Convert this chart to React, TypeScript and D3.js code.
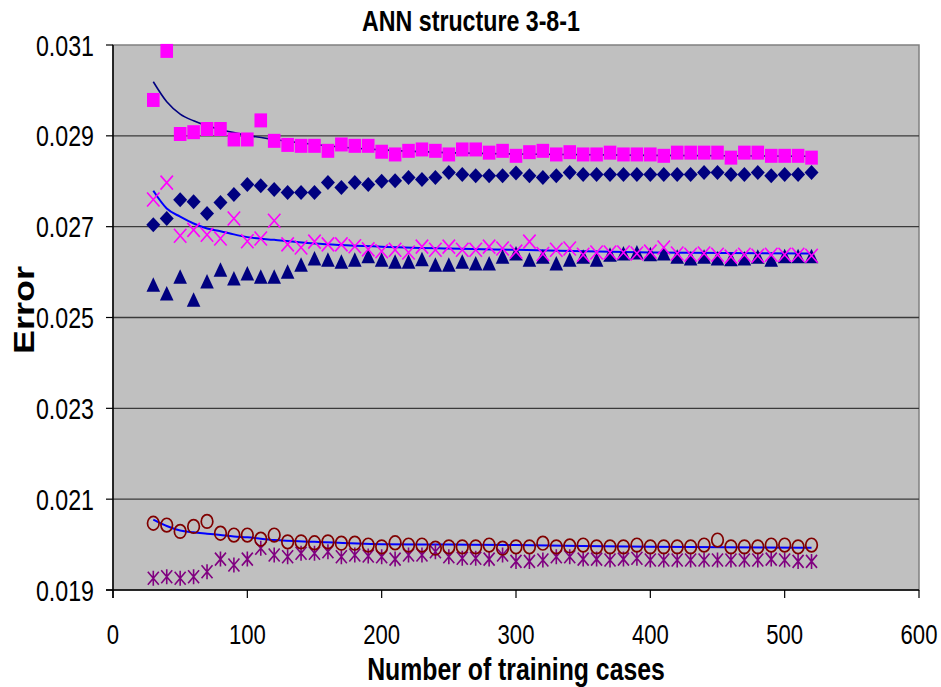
import { useRef, useEffect } from "react";
import * as d3 from "d3";

// number of training cases (x) for every series
const trainingCases = [
  30, 40, 50, 60, 70, 80, 90, 100, 110, 120, 130, 140, 150, 160, 170, 180, 190, 200, 210, 220,
  230, 240, 250, 260, 270, 280, 290, 300, 310, 320, 330, 340, 350, 360, 370, 380, 390, 400, 410, 420,
  430, 440, 450, 460, 470, 480, 490, 500, 510, 520,
];

// magenta squares
const squareErr = [
  0.02979, 0.03087, 0.02904, 0.02908, 0.02915, 0.02915, 0.02892, 0.02892, 0.02934, 0.02889,
  0.0288, 0.02878, 0.02878, 0.02867, 0.02881, 0.02878, 0.02878, 0.02865, 0.02859, 0.02867,
  0.0287, 0.02867, 0.02859, 0.0287, 0.0287, 0.02863, 0.02867, 0.02856, 0.02864, 0.02867,
  0.02859, 0.02864, 0.02859, 0.02859, 0.02863, 0.02859, 0.02859, 0.02859, 0.02856, 0.02863,
  0.02863, 0.02863, 0.02863, 0.02852, 0.02863, 0.02863, 0.02856, 0.02856, 0.02856, 0.02852,
];

// navy diamonds
const diamondErr = [
  0.02704, 0.02718, 0.02759, 0.02755, 0.02729, 0.02753, 0.02771, 0.02793, 0.0279, 0.02782,
  0.02775, 0.02775, 0.02775, 0.02797, 0.02786, 0.02797, 0.02793, 0.028, 0.02801, 0.02808,
  0.02804, 0.02808, 0.02819, 0.02815, 0.02812, 0.02812, 0.02812, 0.02818, 0.02812, 0.02808,
  0.02812, 0.02819, 0.02815, 0.02815, 0.02815, 0.02815, 0.02815, 0.02815, 0.02815, 0.02815,
  0.02815, 0.02819, 0.02819, 0.02815, 0.02815, 0.02819, 0.02812, 0.02815, 0.02815, 0.02819,
];

// magenta crosses
const crossErr = [
  0.0276, 0.02797, 0.0268, 0.02693, 0.02682, 0.02674, 0.02718, 0.02668, 0.02674, 0.02713,
  0.02661, 0.02654, 0.02667, 0.02661, 0.02661, 0.02657, 0.0265, 0.02646, 0.02649, 0.02643,
  0.02656, 0.02649, 0.02656, 0.02649, 0.02649, 0.02656, 0.02652, 0.02645, 0.02667, 0.0264,
  0.02649, 0.02652, 0.02638, 0.02643, 0.02643, 0.02643, 0.02641, 0.02645, 0.02654, 0.02641,
  0.02638, 0.02641, 0.02638, 0.02634, 0.02638, 0.02636, 0.02638, 0.02638, 0.02638, 0.02636,
];

// navy triangles
const triangleErr = [
  0.02572, 0.02553, 0.0259, 0.02539, 0.02579, 0.02605, 0.02586, 0.02597, 0.0259, 0.0259,
  0.02601, 0.02616, 0.0263, 0.02627, 0.02623, 0.02627, 0.02635, 0.02627, 0.02623, 0.02623,
  0.02628, 0.02616, 0.02616, 0.02623, 0.02619, 0.02619, 0.02634, 0.02641, 0.02627, 0.02634,
  0.02619, 0.02627, 0.02634, 0.02627, 0.02638, 0.02641, 0.02643, 0.02639, 0.02641, 0.02634,
  0.0263, 0.02634, 0.0263, 0.02628, 0.0263, 0.02634, 0.02627, 0.02635, 0.02635, 0.02635,
];

// dark red circles
const circleErr = [
  0.02047, 0.02043, 0.02029, 0.0204, 0.02051, 0.02025, 0.02021, 0.02021, 0.02012, 0.02021,
  0.02006, 0.02006, 0.02004, 0.02006, 0.02003, 0.02003, 0.01999, 0.01995, 0.02004, 0.01999,
  0.01999, 0.01992, 0.01995, 0.01995, 0.01995, 0.01999, 0.01992, 0.01995, 0.01995, 0.02003,
  0.01995, 0.01997, 0.01999, 0.01995, 0.01995, 0.01995, 0.01999, 0.01995, 0.01995, 0.01995,
  0.01995, 0.01999, 0.0201, 0.01995, 0.01995, 0.01995, 0.01999, 0.01999, 0.01995, 0.01999,
];

// purple stars
const starErr = [
  0.01926, 0.01929, 0.01926, 0.01929, 0.0194, 0.01968, 0.01955, 0.01968, 0.01992, 0.01977,
  0.01973, 0.01981, 0.01981, 0.01984, 0.01973, 0.01977, 0.01975, 0.01973, 0.01968, 0.01977,
  0.01977, 0.01984, 0.01973, 0.0197, 0.0197, 0.01968, 0.01977, 0.01963, 0.01963, 0.01966,
  0.01973, 0.01973, 0.01968, 0.01968, 0.01966, 0.01968, 0.0197, 0.01966, 0.01966, 0.01966,
  0.01966, 0.01966, 0.01966, 0.01966, 0.01966, 0.01966, 0.01968, 0.01966, 0.01963, 0.01963,
];

// trend lines
const trendX = [30, 40, 50, 60, 70, 80, 90, 100, 120, 150, 200, 250, 300, 400, 520];
const trendSquare = [
  0.03019, 0.02975, 0.02948, 0.02933, 0.02922, 0.02914, 0.02907, 0.02901, 0.02892, 0.02881,
  0.02869, 0.02863, 0.0286, 0.02857, 0.02855,
];
const trendCross = [
  0.02779, 0.0274, 0.02722, 0.02707, 0.02696, 0.0269, 0.02683, 0.02677, 0.02671, 0.02663,
  0.02656, 0.02652, 0.02649, 0.02643, 0.02641,
];
const trendCircle = [
  0.02055, 0.02041, 0.02031, 0.02027, 0.02024, 0.02021, 0.02018, 0.02016, 0.0201, 0.02006,
  0.02001, 0.02, 0.01999, 0.01995, 0.01993,
];

const xTicks = [0, 100, 200, 300, 400, 500, 600];
const yTicks = [0.019, 0.021, 0.023, 0.025, 0.027, 0.029, 0.031];

export default function App() {
  const svgRef = useRef<SVGSVGElement>(null);

  useEffect(() => {
    const width = 941;
    const height = 687;
    const MARGIN = { top: 45, right: 22, bottom: 97, left: 113 };
    const font = "'Liberation Sans', Arial, sans-serif";

    const svg = d3.select(svgRef.current).attr("width", width).attr("height", height);
    svg.selectAll("*").remove();

    const xScale = d3.scaleLinear().domain([0, 600]).range([MARGIN.left, width - MARGIN.right]);
    const yScale = d3.scaleLinear().domain([0.019, 0.031]).range([height - MARGIN.bottom, MARGIN.top]);

    const x0 = xScale(0), x1 = xScale(600), yTop = yScale(0.031), yBot = yScale(0.019);

    // squeezed text like the original
    const label = (
      px: number, py: number, txt: string, size: number, sx: number,
      anchor: string, bold = false, rot = 0
    ) => {
      svg.append("g")
        .attr("transform", `translate(${px},${py}) scale(${sx},1)` + (rot ? ` rotate(${rot})` : ""))
        .append("text")
        .attr("text-anchor", anchor)
        .attr("font-family", font)
        .attr("font-size", size)
        .attr("font-weight", bold ? "bold" : "normal")
        .attr("fill", "#000")
        .text(txt);
    };

    // plot area
    svg.append("rect")
      .attr("x", x0).attr("y", yTop)
      .attr("width", x1 - x0).attr("height", yBot - yTop)
      .attr("fill", "#c0c0c0")
      .attr("stroke", "#808080")
      .attr("stroke-width", 1.5);

    // gridlines
    svg.append("g").selectAll("line")
      .data(yTicks.slice(1, -1))
      .join("line")
      .attr("x1", x0).attr("x2", x1)
      .attr("y1", d => yScale(d)).attr("y2", d => yScale(d))
      .attr("stroke", "#3a3a3a").attr("stroke-width", 1.4);

    // axes lines + ticks
    svg.append("line").attr("x1", x0).attr("x2", x0).attr("y1", yTop).attr("y2", yBot + 8)
      .attr("stroke", "#000").attr("stroke-width", 1.5);
    svg.append("line").attr("x1", x0 - 7).attr("x2", x1).attr("y1", yBot).attr("y2", yBot)
      .attr("stroke", "#000").attr("stroke-width", 1.5);

    svg.append("g").selectAll("line")
      .data(yTicks)
      .join("line")
      .attr("x1", x0 - 7).attr("x2", x0)
      .attr("y1", d => yScale(d)).attr("y2", d => yScale(d))
      .attr("stroke", "#000").attr("stroke-width", 1.2);
    svg.append("g").selectAll("line")
      .data(xTicks)
      .join("line")
      .attr("x1", d => xScale(d)).attr("x2", d => xScale(d))
      .attr("y1", yBot).attr("y2", yBot + 8)
      .attr("stroke", "#000").attr("stroke-width", 1.2);

    yTicks.forEach(t => label(94, yScale(t) + 10.5, t.toFixed(3), 29, 0.8, "end"));
    xTicks.forEach(t => label(xScale(t), 644, String(t), 27, 0.82, "middle"));

    // titles
    label(471, 31, "ANN structure 3-8-1", 29, 0.8, "middle", true);
    label(516, 680, "Number of training cases", 31, 0.8, "middle", true);
    label(34, 310, "Error", 36, 0.8, "middle", true, -90);

    // trend lines
    const trendLine = d3.line<number>()
      .x((_, i) => xScale(trendX[i]))
      .y(d => yScale(d))
      .curve(d3.curveMonotoneX);

    svg.append("path").attr("d", trendLine(trendSquare))
      .attr("fill", "none").attr("stroke", "#000080").attr("stroke-width", 1.6);
    svg.append("path").attr("d", trendLine(trendCross))
      .attr("fill", "none").attr("stroke", "#0000ff").attr("stroke-width", 2);
    svg.append("path").attr("d", trendLine(trendCircle))
      .attr("fill", "none").attr("stroke", "#0000ff").attr("stroke-width", 2);

    // markers
    const pts = (vals: number[]) => vals.map((v, i) => [xScale(trainingCases[i]), yScale(v)]);

    const drawMarks = (vals: number[], path: string, fill: string, stroke: string, sw: number) => {
      svg.append("g").selectAll("path")
        .data(pts(vals))
        .join("path")
        .attr("transform", d => `translate(${d[0]},${d[1]})`)
        .attr("d", path)
        .attr("fill", fill)
        .attr("stroke", stroke)
        .attr("stroke-width", sw);
    };

    drawMarks(starErr, "M-5.5,-6.5L5.5,6.5M-5.5,6.5L5.5,-6.5M0,-7.5L0,7.5", "none", "#800080", 1.6);
    drawMarks(circleErr,
      "M-5.8,0A5.8,6.8 0 1,0 5.8,0A5.8,6.8 0 1,0 -5.8,0Z", "none", "#800000", 1.7);
    drawMarks(triangleErr, "M0,-7.5L6.8,7L-6.8,7Z", "#000080", "none", 0);
    drawMarks(diamondErr, "M0,-7.5L7,0L0,7.5L-7,0Z", "#000080", "none", 0);
    drawMarks(crossErr, "M-6.2,-7L6.2,7M-6.2,7L6.2,-7", "none", "#ff00ff", 1.6);
    drawMarks(squareErr, "M-6.3,-7H6.3V7H-6.3Z", "#ff00ff", "none", 0);
  }, []);

  return (
    <div style={{ position: "absolute", left: 0, top: 0, background: "#fff" }}>
      <svg ref={svgRef}></svg>
    </div>
  );
}
